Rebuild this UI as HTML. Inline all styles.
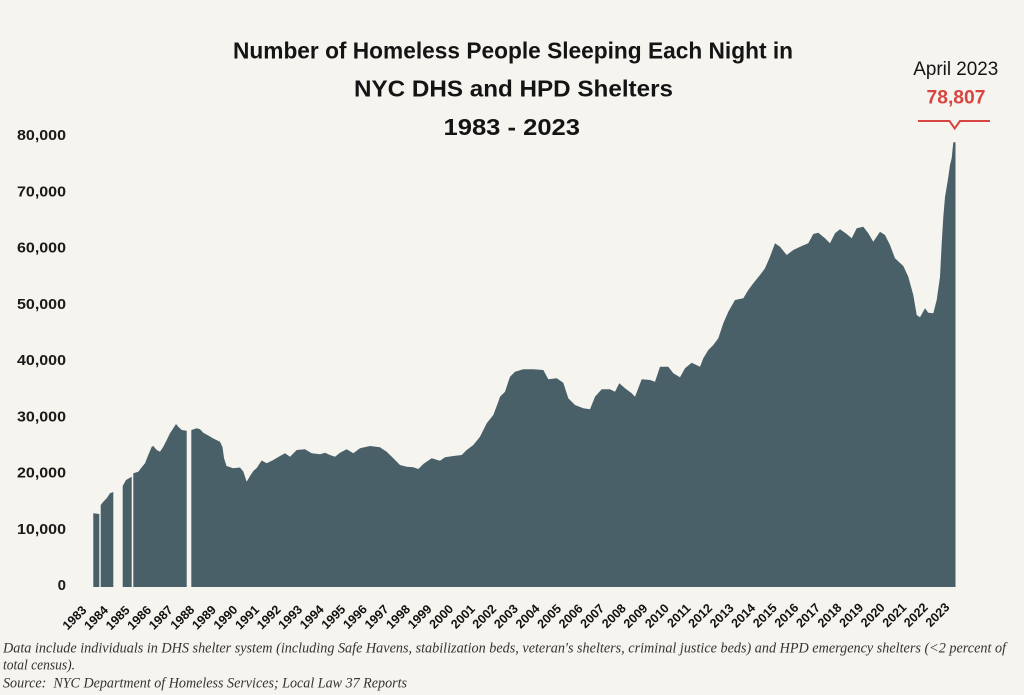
<!DOCTYPE html>
<html>
<head>
<meta charset="utf-8">
<style>
  html, body { margin:0; padding:0; background:#f6f4ef; }
  svg { display:block; }
</style>
</head>
<body>
<svg width="1024" height="695" viewBox="0 0 1024 695" xmlns="http://www.w3.org/2000/svg">
  <rect x="0" y="0" width="1024" height="695" fill="#f6f4ef"/>

  <!-- Title -->
  <g font-family="'Liberation Sans', sans-serif" font-weight="bold" font-size="23" fill="#141414" text-anchor="start">
    <text x="233" y="58.3" textLength="560" lengthAdjust="spacingAndGlyphs">Number of Homeless People Sleeping Each Night in</text>
    <text x="354" y="96.7" textLength="319" lengthAdjust="spacingAndGlyphs">NYC DHS and HPD Shelters</text>
    <text x="443.5" y="135" textLength="136.5" lengthAdjust="spacingAndGlyphs">1983 - 2023</text>
  </g>

  <!-- Y axis labels -->
  <g font-family="'Liberation Sans', sans-serif" font-weight="bold" font-size="15" fill="#1a1a1a" text-anchor="end">
    <text x="66" y="590.1">0</text>
    <text x="66" y="533.9" textLength="49" lengthAdjust="spacingAndGlyphs">10,000</text>
    <text x="66" y="477.6" textLength="49" lengthAdjust="spacingAndGlyphs">20,000</text>
    <text x="66" y="421.4" textLength="49" lengthAdjust="spacingAndGlyphs">30,000</text>
    <text x="66" y="365.1" textLength="49" lengthAdjust="spacingAndGlyphs">40,000</text>
    <text x="66" y="308.9" textLength="49" lengthAdjust="spacingAndGlyphs">50,000</text>
    <text x="66" y="252.6" textLength="49" lengthAdjust="spacingAndGlyphs">60,000</text>
    <text x="66" y="196.4" textLength="49" lengthAdjust="spacingAndGlyphs">70,000</text>
    <text x="66" y="140.1" textLength="49" lengthAdjust="spacingAndGlyphs">80,000</text>
  </g>

  <!-- Area chart -->
  <g fill="#4a6068">
    <path d="M93.3,587 L93.3,513.3 L99.3,514 L99.3,587 Z"/>
    <path d="M100.7,587 L100.7,505 L103.3,501.7 L106.7,498.3 L110,493.3 L113.3,492 L113.3,587 Z"/>
    <path d="M122.7,587 L122.7,486 L126,480 L131.7,476.7 L131.7,587 Z"/>
    <path d="M133.3,587 L133.3,473.3 L138.3,471.7 L141.7,467.3 L145,463.3 L148.3,455 L151.7,446.7 L153.3,446 L156.7,450 L160,451.7 L163.3,446.7 L166.7,440 L170,433.3 L173.3,428.3 L176,424 L178.3,426.7 L181.7,430 L186.7,430.7 L186.7,587 Z"/>
    <path d="M191.3,587 L191.3,430 L196.7,428.3 L200,429.3 L203.3,432.7 L208.3,435.5 L213.3,438.5 L220,441.7 L222.5,447 L224,458 L226.5,466 L233.3,468.3 L240,467.5 L243.3,471.5 L246.7,481.7 L250,476 L253.3,471 L256.7,468 L261.7,460.5 L266.7,463.3 L273.3,460 L280,456 L285,453.3 L290,456.7 L296.7,450 L305,449.3 L311.7,453.3 L320,454.3 L325,452.7 L330,455 L335,456.7 L340,452.7 L346.7,449.3 L353.3,453.3 L360,448.3 L370,446 L380,447.3 L386.7,451.7 L393.3,458.3 L400,465 L406.7,466.7 L413.3,467.3 L418.3,469 L423.3,464 L431.7,458.3 L440,460.7 L445,457.3 L453.3,456 L461.7,455 L466.7,450 L473.3,445 L480,436.7 L486.7,423.3 L493.3,415 L498.3,401.7 L500,396.7 L505,391.7 L510,376.7 L515,371.7 L523.3,369.3 L533.3,369.3 L543.3,370 L548.3,379.3 L556.7,378.3 L563.3,382.7 L568.3,398.3 L575,405 L583.3,408.3 L590,409.3 L595,396.7 L601.7,389.3 L610,389.3 L615,391.7 L619.3,383.3 L625,388.3 L631.7,393.3 L635,396.7 L641.7,379.3 L650,380 L655,381.7 L660,366.7 L668.3,366.7 L673.3,373.3 L680,377.3 L685,368.3 L691.7,362.7 L700,366.7 L703.3,358.3 L708.3,350 L713.3,345 L718.3,338.3 L723.3,323.3 L728.3,311.7 L735,300 L743.3,298.3 L748.3,290 L753.3,283.3 L760,275 L765,268.3 L770,256.7 L775,243.3 L780,246.7 L786.7,255 L793.3,250 L801.7,246 L808.3,243.3 L813.3,234 L818.3,232.7 L825,238.3 L830,243.3 L835,233.3 L840,229.3 L846.7,234 L851.7,238.3 L856.7,228.3 L863.3,226.7 L868.3,233.3 L873.3,241.7 L880,231.7 L885,235 L890,245 L895,258.3 L903.3,266 L908.3,276.7 L913.3,295 L916.7,315 L920,317.3 L925,308.3 L928.3,312.7 L933.3,313.3 L936.7,300 L940,276.7 L941.7,243.3 L943.3,217 L945,197 L946.7,187 L948.3,177 L950,165 L951.7,158 L953.3,142.3 L955.5,142.3 L955.5,587 Z"/>
  </g>

  <!-- Annotation -->
  <g font-family="'Liberation Sans', sans-serif" text-anchor="middle">
    <text x="955.8" y="75" font-size="19" fill="#141414" textLength="85" lengthAdjust="spacingAndGlyphs">April 2023</text>
    <text x="956" y="103.3" font-size="19.5" font-weight="bold" fill="#d64541" textLength="59" lengthAdjust="spacingAndGlyphs">78,807</text>
  </g>
  <path d="M918,121 H949.5 L954.7,128.5 L960,121 H990" fill="none" stroke="#d64541" stroke-width="2"/>

  <!-- X axis labels -->
  <g font-family="'Liberation Sans', sans-serif" font-weight="bold" font-size="12.5" fill="#111" text-anchor="end">
    <text transform="translate(87.3,611) rotate(-45)">1983</text>
    <text transform="translate(108.9,610.9) rotate(-45)">1984</text>
    <text transform="translate(130.5,610.9) rotate(-45)">1985</text>
    <text transform="translate(152.0,610.8) rotate(-45)">1986</text>
    <text transform="translate(173.6,610.7) rotate(-45)">1987</text>
    <text transform="translate(195.2,610.6) rotate(-45)">1988</text>
    <text transform="translate(216.8,610.6) rotate(-45)">1989</text>
    <text transform="translate(238.3,610.5) rotate(-45)">1990</text>
    <text transform="translate(259.9,610.4) rotate(-45)">1991</text>
    <text transform="translate(281.5,610.3) rotate(-45)">1992</text>
    <text transform="translate(303.1,610.3) rotate(-45)">1993</text>
    <text transform="translate(324.6,610.2) rotate(-45)">1994</text>
    <text transform="translate(346.2,610.1) rotate(-45)">1995</text>
    <text transform="translate(367.8,610.0) rotate(-45)">1996</text>
    <text transform="translate(389.4,610.0) rotate(-45)">1997</text>
    <text transform="translate(410.9,609.9) rotate(-45)">1998</text>
    <text transform="translate(432.5,609.8) rotate(-45)">1999</text>
    <text transform="translate(454.1,609.7) rotate(-45)">2000</text>
    <text transform="translate(475.7,609.7) rotate(-45)">2001</text>
    <text transform="translate(497.2,609.6) rotate(-45)">2002</text>
    <text transform="translate(518.8,609.5) rotate(-45)">2003</text>
    <text transform="translate(540.4,609.4) rotate(-45)">2004</text>
    <text transform="translate(562.0,609.4) rotate(-45)">2005</text>
    <text transform="translate(583.5,609.3) rotate(-45)">2006</text>
    <text transform="translate(605.1,609.2) rotate(-45)">2007</text>
    <text transform="translate(626.7,609.1) rotate(-45)">2008</text>
    <text transform="translate(648.3,609.1) rotate(-45)">2009</text>
    <text transform="translate(669.8,609.0) rotate(-45)">2010</text>
    <text transform="translate(691.4,608.9) rotate(-45)">2011</text>
    <text transform="translate(713.0,608.8) rotate(-45)">2012</text>
    <text transform="translate(734.6,608.8) rotate(-45)">2013</text>
    <text transform="translate(756.1,608.7) rotate(-45)">2014</text>
    <text transform="translate(777.7,608.6) rotate(-45)">2015</text>
    <text transform="translate(799.3,608.5) rotate(-45)">2016</text>
    <text transform="translate(820.9,608.5) rotate(-45)">2017</text>
    <text transform="translate(842.4,608.4) rotate(-45)">2018</text>
    <text transform="translate(864.0,608.3) rotate(-45)">2019</text>
    <text transform="translate(885.6,608.2) rotate(-45)">2020</text>
    <text transform="translate(907.2,608.2) rotate(-45)">2021</text>
    <text transform="translate(928.7,608.1) rotate(-45)">2022</text>
    <text transform="translate(950.3,608.0) rotate(-45)">2023</text>
  </g>

  <!-- Footnotes -->
  <g font-family="'Liberation Serif', serif" font-style="italic" font-size="14.5" fill="#333">
    <text x="3" y="652.5" textLength="1003" lengthAdjust="spacingAndGlyphs">Data include individuals in DHS shelter system (including Safe Havens, stabilization beds, veteran's shelters, criminal justice beds) and HPD emergency shelters (&lt;2 percent of</text>
    <text x="3" y="669.5" textLength="72" lengthAdjust="spacingAndGlyphs">total census).</text>
    <text x="3" y="687.5" textLength="404" lengthAdjust="spacingAndGlyphs" style="white-space:pre">Source:  NYC Department of Homeless Services; Local Law 37 Reports</text>
  </g>
</svg>
</body>
</html>
